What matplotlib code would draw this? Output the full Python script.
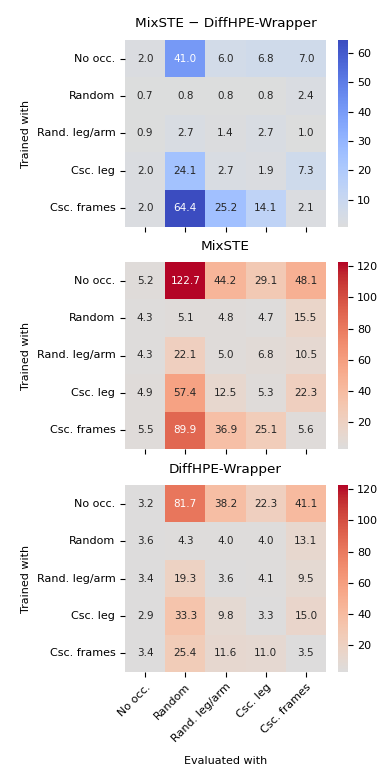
import numpy as np
import matplotlib
matplotlib.use("Agg")
import matplotlib.pyplot as plt
import seaborn as sns

occlusions = ["No occ.", "Random", "Rand. leg/arm", "Csc. leg", "Csc. frames"]

# rows = trained with, cols = evaluated with
mixste = [
    [5.2, 122.7, 44.2, 29.1, 48.1],
    [4.3, 5.1, 4.8, 4.7, 15.5],
    [4.3, 22.1, 5.0, 6.8, 10.5],
    [4.9, 57.4, 12.5, 5.3, 22.3],
    [5.5, 89.9, 36.9, 25.1, 5.6],
]
diffhpe = [
    [3.2, 81.7, 38.2, 22.3, 41.1],
    [3.6, 4.3, 4.0, 4.0, 13.1],
    [3.4, 19.3, 3.6, 4.1, 9.5],
    [2.9, 33.3, 9.8, 3.3, 15.0],
    [3.4, 25.4, 11.6, 11.0, 3.5],
]
difference = [
    [2.0, 41.0, 6.0, 6.8, 7.0],
    [0.7, 0.8, 0.8, 0.8, 2.4],
    [0.9, 2.7, 1.4, 2.7, 1.0],
    [2.0, 24.1, 2.7, 1.9, 7.3],
    [2.0, 64.4, 25.2, 14.1, 2.1],
]

titles = ["MixSTE \u2212 DiffHPE-Wrapper", "MixSTE", "DiffHPE-Wrapper"]

fig = plt.figure(figsize=(3.9, 7.81), dpi=100)

W, H = 390, 781
bottoms = [227, 449, 672]   # pixel bottom of each heatmap
hm_h = 187

vmin = min(np.min(mixste), np.min(diffhpe))
vmax = max(np.max(mixste), np.max(diffhpe))

datas = [difference, mixste, diffhpe]
for i, data in enumerate(datas):
    ax = fig.add_axes([125 / W, 1 - bottoms[i] / H, 201 / W, hm_h / H])
    cax = fig.add_axes([338 / W, 1 - bottoms[i] / H, 9.5 / W, hm_h / H])
    if i == 0:
        sns.heatmap(np.array(data), ax=ax, cbar_ax=cax, cmap="coolwarm_r",
                    center=np.min(data),
                    annot=True, fmt=".1f", annot_kws={"size": 7.5},
                    xticklabels=occlusions, yticklabels=occlusions)
    else:
        sns.heatmap(np.array(data), ax=ax, cbar_ax=cax, cmap="coolwarm", center=vmin,
                    vmin=vmin, vmax=vmax,
                    annot=True, fmt=".1f", annot_kws={"size": 7.5},
                    xticklabels=occlusions, yticklabels=occlusions)
    ax.set_title(titles[i], fontsize=9.7, pad=9)
    ax.set_ylabel("Trained with", fontsize=8)
    ax.tick_params(axis="both", labelsize=8)
    ax.set_yticklabels(occlusions, rotation=0)
    cax.tick_params(labelsize=8)
    if i < 2:
        ax.set_xticklabels([])
        ax.set_xlabel("")
    else:
        ax.set_xticklabels(occlusions, rotation=45, ha="right", rotation_mode="anchor")
        ax.set_xlabel("Evaluated with", fontsize=8, labelpad=8)

fig.savefig("out.png", dpi=100)
